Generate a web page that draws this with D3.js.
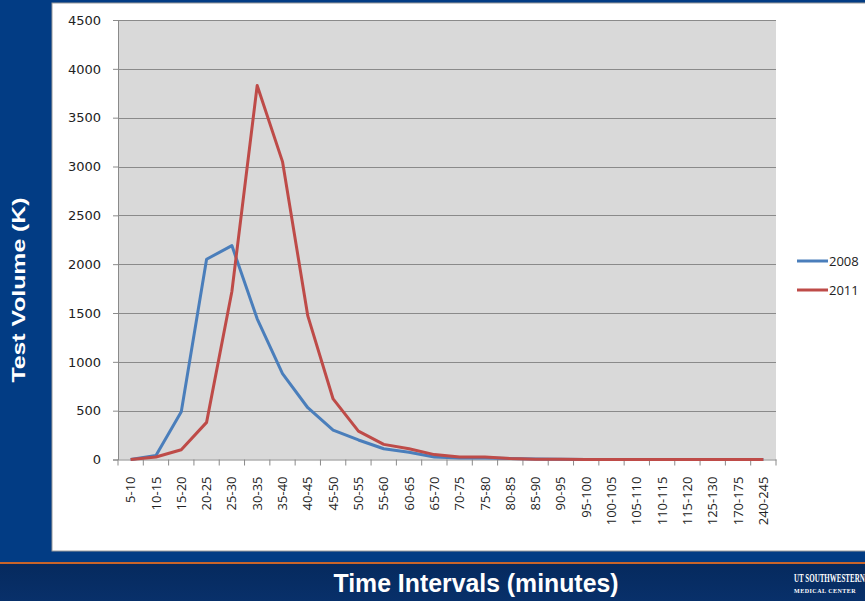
<!DOCTYPE html>
<html>
<head>
<meta charset="utf-8">
<script src="https://cdn.jsdelivr.net/npm/d3@7"></script>
<style>
  html, body { margin: 0; padding: 0; background: #023c84; }
  svg { display: block; }
</style>
</head>
<body>
<svg id="chart" width="865" height="601"></svg>
<script>
// Time intervals (minutes) on the category axis
const categories = ["5-10","10-15","15-20","20-25","25-30","30-35","35-40","40-45","45-50",
  "50-55","55-60","60-65","65-70","70-75","75-80","80-85","85-90","90-95","95-100",
  "100-105","105-110","110-115","115-120","125-130","170-175","240-245"];

// Test volume (K) per interval
const series2008 = [0, 40, 490, 2050, 2190, 1440, 880, 530, 300, 200, 110, 75, 25, 15, 15, 10, 5,
  2, 1, 0, 0, 0, 0, 0, 0, 0];
const series2011 = [0, 25, 100, 380, 1720, 3830, 3050, 1470, 620, 290, 155, 110, 50, 25, 25, 10, 3,
  2, 1, 0, 0, 0, 0, 0, 0, 0];

const yTicks = [0, 500, 1000, 1500, 2000, 2500, 3000, 3500, 4000, 4500];
const seriesNames = ["2008", "2011"];
const seriesColors = ["#4a7ebb", "#be4b48"];

const svg = d3.select("#chart");

// Slide frame: blue background, white panel, footer band with orange rule
svg.append("rect").attr("x", 0).attr("y", 0).attr("width", 865).attr("height", 601).attr("fill", "#023c84");
svg.append("rect").attr("x", 52).attr("y", 3).attr("width", 820).attr("height", 548)
  .attr("fill", "#ffffff").attr("stroke", "#9a9a9a").attr("stroke-width", 1);
const grad = svg.append("defs").append("linearGradient").attr("id", "foot")
  .attr("x1", 0).attr("x2", 0).attr("y1", 0).attr("y2", 1);
grad.append("stop").attr("offset", "0%").attr("stop-color", "#062a5e");
grad.append("stop").attr("offset", "100%").attr("stop-color", "#08306a");
svg.append("rect").attr("x", 0).attr("y", 564).attr("width", 865).attr("height", 37).attr("fill", "url(#foot)");
svg.append("rect").attr("x", 0).attr("y", 562).attr("width", 865).attr("height", 2).attr("fill", "#c8642a");

// Plot area
const plot = { left: 118, top: 20, right: 776, bottom: 459.5 };

const x = d3.scaleBand().domain(categories).range([plot.left, plot.right]).padding(0);
const y = d3.scaleLinear().domain([0, 4500]).range([plot.bottom, plot.top]);

svg.append("rect").attr("x", plot.left).attr("y", plot.top)
  .attr("width", plot.right - plot.left).attr("height", plot.bottom - plot.top)
  .attr("fill", "#d9d9d9");

// Horizontal gridlines
svg.append("g").selectAll("line").data(yTicks.filter(d => d > 0)).join("line")
  .attr("x1", plot.left).attr("x2", plot.right)
  .attr("y1", d => Math.round(y(d)) + 0.5).attr("y2", d => Math.round(y(d)) + 0.5)
  .attr("stroke", "#8a8a8a").attr("stroke-width", 1);

// Y axis
const yAxis = svg.append("g").attr("transform", `translate(${plot.left},0)`)
  .call(d3.axisLeft(y).tickValues(yTicks).tickSize(5).tickPadding(12).tickFormat(d3.format("d")));
yAxis.select(".domain").attr("stroke", "#8a8a8a");
yAxis.selectAll(".tick line").attr("stroke", "#8a8a8a");
yAxis.selectAll(".tick text").attr("fill", "#222").style("font-family", "'DejaVu Sans', Verdana, sans-serif")
  .style("font-size", "13px");

// X axis with ticks at category boundaries
const xAxis = svg.append("g").attr("transform", `translate(0,${plot.bottom})`)
  .call(d3.axisBottom(x).tickSize(0).tickPadding(0));
xAxis.select(".domain").attr("stroke", "#8a8a8a");
xAxis.selectAll(".tick text")
  .attr("transform", "rotate(-90)")
  .attr("x", -17).attr("y", 0).attr("dy", "0.35em")
  .style("text-anchor", "end")
  .attr("fill", "#222")
  .style("font-family", "'Open Sans', 'Noto Sans', sans-serif")
  .style("font-size", "13px");
const bounds = categories.map(c => x(c)).concat([plot.right]);
xAxis.append("g").selectAll("line").data(bounds).join("line")
  .attr("x1", d => d).attr("x2", d => d).attr("y1", 0).attr("y2", 6)
  .attr("stroke", "#8a8a8a");

// Series lines
const line = d3.line()
  .x((d, i) => x(categories[i]) + x.bandwidth() / 2)
  .y(d => y(d));
[series2008, series2011].forEach((s, k) => {
  svg.append("path").datum(s).attr("d", line)
    .attr("fill", "none").attr("stroke", seriesColors[k]).attr("stroke-width", 3)
    .attr("stroke-linejoin", "round");
});

// Legend
const legend = svg.append("g");
seriesNames.forEach((n, k) => {
  const ly = 261 + k * 29;
  legend.append("line").attr("x1", 797).attr("x2", 828).attr("y1", ly).attr("y2", ly)
    .attr("stroke", seriesColors[k]).attr("stroke-width", 3);
  legend.append("text").attr("x", 829).attr("y", ly).attr("dy", "0.35em")
    .attr("fill", "#222").style("font-family", "'Open Sans', 'Noto Sans', sans-serif")
    .style("font-size", "13px").text(n);
});

// Axis titles on the slide frame
svg.append("text").attr("transform", "translate(25,290) rotate(-90)")
  .attr("text-anchor", "middle").attr("fill", "#ffffff")
  .attr("textLength", 185).attr("lengthAdjust", "spacingAndGlyphs")
  .style("font-family", "'Liberation Sans', Arial, sans-serif").style("font-weight", "bold")
  .style("font-size", "19px").text("Test Volume (K)");
svg.append("text").attr("x", 476).attr("y", 592)
  .attr("text-anchor", "middle").attr("fill", "#ffffff")
  .attr("textLength", 285).attr("lengthAdjust", "spacingAndGlyphs")
  .style("font-family", "'Liberation Sans', Arial, sans-serif").style("font-weight", "bold")
  .style("font-size", "25px").text("Time Intervals (minutes)");

// Footer logo wordmark (condensed, tall lettering)
const logo = svg.append("g").attr("transform", "translate(794,0)");
logo.append("text").attr("x", 0).attr("y", 0).attr("fill", "#ffffff")
  .attr("transform", "translate(0,582) scale(1,1.7)")
  .style("font-family", "'Liberation Serif', serif").style("font-weight", "bold")
  .style("font-size", "7px").text("UT SOUTHWESTERN");
logo.append("text").attr("x", 0).attr("y", 593).attr("fill", "#ffffff")
  .style("font-family", "'Liberation Serif', serif").style("font-weight", "bold")
  .style("font-size", "6px").style("letter-spacing", "0.5px").text("MEDICAL CENTER");
</script>
</body>
</html>
